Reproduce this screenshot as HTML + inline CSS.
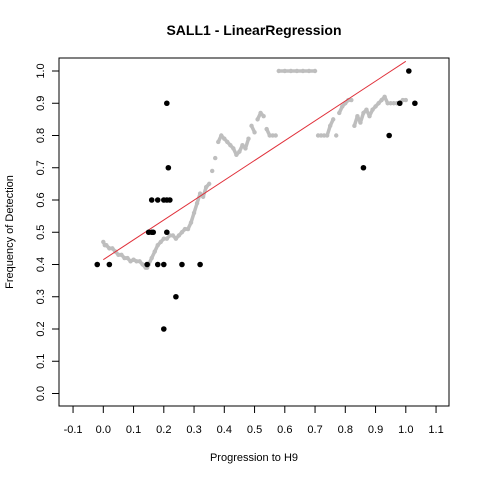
<!DOCTYPE html>
<html><head><meta charset="utf-8"><style>
body{margin:0;background:#fff}
svg text{font-family:"Liberation Sans",sans-serif;fill:#000}
</style></head><body>
<svg id="chart" width="480" height="480" xmlns="http://www.w3.org/2000/svg">
<text x="254" y="35" text-anchor="middle" font-size="14" font-weight="bold">SALL1 - LinearRegression</text>
<text x="254" y="461" text-anchor="middle" font-size="11">Progression to H9</text>
<text transform="translate(13,232) rotate(-90)" text-anchor="middle" font-size="11">Frequency of Detection</text>
<rect x="59" y="58" width="390" height="348" fill="none" stroke="#000"/>
<g id="g"></g>
</svg>
<script>
const xTicks=[-0.1,0,0.1,0.2,0.3,0.4,0.5,0.6,0.7,0.8,0.9,1.0,1.1];
const yTicks=[0,0.1,0.2,0.3,0.4,0.5,0.6,0.7,0.8,0.9,1.0];
const grayX=[0,0.005,0.01,0.02,0.03,0.04,0.05,0.06,0.07,0.08,0.09,0.10,0.11,0.12,0.13,0.14,0.145,0.15,0.16,0.17,0.18,0.19,0.20,0.21,0.22,0.23,0.24,0.25,0.26,0.27,0.28,0.29,0.30,0.31,0.32,0.33,0.34,0.35,0.36,0.37,0.38,0.39,0.40,0.41,0.42,0.43,0.44,0.45,0.46,0.47,0.48,0.49,0.50,0.51,0.52,0.53,0.54,0.55,0.56,0.57,0.58,0.60,0.62,0.64,0.66,0.68,0.70,0.71,0.72,0.73,0.74,0.75,0.76,0.77,0.78,0.79,0.80,0.81,0.82,0.83,0.84,0.85,0.86,0.87,0.88,0.89,0.90,0.91,0.92,0.93,0.94,0.95,0.96,0.97,0.98,0.99,1.0];
const grayY=[0.47,0.46,0.46,0.45,0.45,0.44,0.43,0.43,0.42,0.42,0.41,0.415,0.41,0.41,0.40,0.39,0.39,0.40,0.42,0.44,0.46,0.47,0.48,0.48,0.49,0.49,0.48,0.49,0.50,0.51,0.51,0.53,0.56,0.59,0.62,0.61,0.64,0.65,0.69,0.73,0.78,0.80,0.79,0.78,0.77,0.76,0.74,0.75,0.77,0.76,0.79,0.83,0.81,0.85,0.87,0.86,0.82,0.80,0.80,0.80,1.0,1.0,1.0,1.0,1.0,1.0,1.0,0.80,0.80,0.80,0.80,0.83,0.85,0.80,0.87,0.89,0.90,0.91,0.91,0.83,0.86,0.84,0.87,0.88,0.86,0.88,0.89,0.90,0.91,0.92,0.90,0.90,0.90,0.90,0.90,0.91,0.91];
const ptX=[-0.02,0.02,0.145,0.18,0.20,0.26,0.32,0.24,0.2,0.21,0.215,0.16,0.18,0.2,0.21,0.22,0.15,0.16,0.165,0.21,0.86,0.945,0.98,1.01,1.03];
const ptY=[0.4,0.4,0.4,0.4,0.4,0.4,0.4,0.3,0.2,0.9,0.7,0.6,0.6,0.6,0.6,0.6,0.5,0.5,0.5,0.5,0.7,0.8,0.9,1.0,0.9];
const lineX=[0,1.0];
const lineY=[0.415,1.03];
const X=v=>103.3+v*302.5, Y=v=>393.5-v*322.5;
const g=document.getElementById('g'),NS='http://www.w3.org/2000/svg';
function mk(t,a){const e=document.createElementNS(NS,t);for(const k in a)e.setAttribute(k,a[k]);g.appendChild(e);return e;}
xTicks.forEach(v=>{
 const l=mk('line',{x1:X(v),x2:X(v),y1:406,y2:413,stroke:'#000'});
 
 
 const t=mk('text',{x:X(v),y:433,'text-anchor':'middle','font-size':11});t.textContent=v.toFixed(1);
 
 
});
yTicks.forEach(v=>{
 const l=mk('line',{x1:52,x2:59,y1:Y(v),y2:Y(v),stroke:'#000'});
 
 
 const t=mk('text',{transform:`translate(44,${Y(v)}) rotate(-90)`,'text-anchor':'middle','font-size':11});t.textContent=v.toFixed(1);
 
 
});
grayX.forEach((v,i)=>{
 const c=mk('circle',{cx:X(v),cy:Y(grayY[i]),r:2.2,fill:'#bebebe'});
 
 
 if(i<grayX.length-1 && Math.abs(grayY[i+1]-grayY[i])<0.035){
  const s=mk('line',{x1:X(v),y1:Y(grayY[i]),x2:X(grayX[i+1]),y2:Y(grayY[i+1]),stroke:'#bebebe','stroke-width':3.5,'stroke-linecap':'round'});
  
  
 }
});
const ln=mk('line',{x1:X(lineX[0]),y1:Y(lineY[0]),x2:X(lineX[1]),y2:Y(lineY[1]),stroke:'#e0303a','stroke-width':1});


ptX.forEach((v,i)=>{
 const c=mk('circle',{cx:X(v),cy:Y(ptY[i]),r:2.8,fill:'#000'});
 
 
});
</script>
</body></html>
